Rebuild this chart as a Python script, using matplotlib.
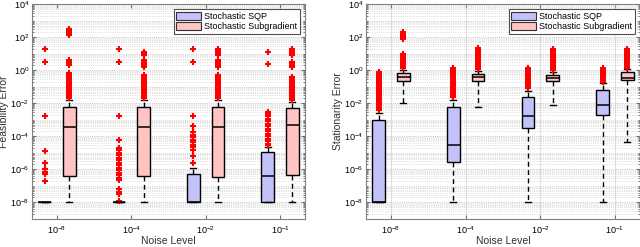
import numpy as np
import matplotlib
matplotlib.use("Agg")
import matplotlib.pyplot as plt
from matplotlib.patches import Patch
from matplotlib.ticker import FixedLocator, LogLocator, NullFormatter

plt.rcParams["font.family"] = ["Liberation Sans", "DejaVu Sans"]
plt.rcParams["mathtext.default"] = "regular"

# --- Data (all values as log10 exponents) ---
noise_labels = ["$10^{-8}$", "$10^{-4}$", "$10^{-2}$", "$10^{-1}$"]
methods      = ["Stochastic SQP", "Stochastic Subgradient"]
fill_colors  = ["#c2c2f8", "#ffc4c4"]

# box stats per noise level: (whislo, q1, med, q3, whishi)
feas_sqp = [(-8, -8, -8, -8, -8),
            (-8, -8, -8, -8, -8),
            (-8, -8, -8, -6.25, -5.9),
            (-8, -8, -6.4, -4.97, -4.67)]
feas_sub = [(-8, -6.42, -3.45, -2.24, -1.8),
            (-8, -6.42, -3.45, -2.24, -1.8),
            (-8, -6.45, -3.45, -2.24, -1.8),
            (-8, -6.36, -3.33, -2.3, -1.94)]
feas_sqp_fliers = [
    [1.27, 0.5, -2.8, -4.9, -5.6, -6.0, -6.15, -6.3, -6.7],
    [1.27, 0.5, -2.8, -4.2, -4.7, -4.85, -5.0, -5.15, -5.3, -5.45, -5.6, -5.75,
     -5.9, -6.05, -6.2, -6.35, -6.5, -6.65, -7.2, -7.35, -7.5, -7.9],
    [1.27, 0.5, -2.8, -3.4, -3.75, -3.9, -4.05, -4.2, -4.35, -4.5, -4.65, -4.8,
     -5.2, -5.6],
    [1.1, 0.36, -2.55, -2.65, -2.8, -2.95, -3.1, -3.25, -3.4, -3.55, -3.7, -3.85,
     -4.0, -4.15, -4.3, -4.45, -4.55],
]
feas_sub_fliers = [
    [-1.7, -1.6, -1.5, -1.4, -1.3, -1.2, -1.1, -1.0, -0.9, -0.8, -0.7, -0.6, -0.5,
     -0.4, -0.3, -0.2, 0.3, 0.4, 0.5, 0.6, 2.1, 2.2, 2.3, 2.4, 2.5],
    [-1.7, -1.6, -1.5, -1.4, -1.3, -1.2, -1.1, -1.0, -0.9, -0.8, -0.7, -0.6, -0.5,
     -0.4, -0.3, 0.2, 0.3, 0.4, 0.5, 0.6, 0.9, 1.0, 1.1],
    [-1.7, -1.6, -1.5, -1.4, -1.3, -1.2, -1.1, -1.0, -0.9, -0.8, -0.7, -0.6, -0.5,
     -0.4, -0.3, 0.2, 0.3, 0.4, 0.5, 0.6, 0.9, 1.0, 1.1, 1.2, 1.27],
    [-1.8, -1.7, -1.6, -1.5, -1.4, -1.3, -1.2, -1.1, -1.0, -0.9, -0.8, -0.7, -0.6,
     -0.5, -0.4, 0.2, 0.3, 0.4, 0.5, 0.9, 1.0, 1.1, 1.2, 1.3],
]

stat_sqp = [(-8, -8, -8, -3.03, -2.6),
            (-8, -5.55, -4.55, -2.2, -1.8),
            (-8, -3.5, -2.8, -1.6, -1.27),
            (-8, -2.7, -2.1, -1.2, -0.8)]
stat_sub = [(-2.0, -0.65, -0.42, -0.2, 0.0),
            (-2.25, -0.65, -0.42, -0.25, -0.05),
            (-2.1, -0.65, -0.45, -0.3, -0.1),
            (-4.35, -0.6, -0.5, -0.1, 0.05)]
stat_sqp_fliers = [
    [-2.4, -2.3, -2.2, -2.1, -2.0, -1.9, -1.8, -1.7, -1.6, -1.5, -1.4, -1.3, -1.2,
     -1.1, -1.0, -0.9, -0.8, -0.7, -0.6, -0.5, -0.4, -0.3, -0.2, -0.1],
    [-1.6, -1.5, -1.4, -1.3, -1.2, -1.1, -1.0, -0.9, -0.8, -0.7, -0.6, -0.5, -0.4,
     -0.3, -0.2, -0.1, 0.0, 0.1],
    [-1.1, -1.0, -0.9, -0.8, -0.7, -0.6, -0.5, -0.4, -0.3, -0.2, -0.1, 0.0, 0.1],
    [-0.7, -0.6, -0.5, -0.4, -0.3, -0.2, -0.1, 0.0, 0.1],
]
stat_sub_fliers = [
    [0.1, 0.2, 0.3, 0.4, 0.5, 0.6, 0.7, 0.8, 0.9, 1.0, 1.9, 2.0, 2.1, 2.2, 2.3],
    [0.05, 0.15, 0.25, 0.35, 0.45, 0.55, 0.65, 0.75, 0.85, 0.95, 1.05, 1.15, 1.25,
     1.35],
    [0.0, 0.1, 0.2, 0.3, 0.4, 0.5, 0.6, 0.7, 0.8, 0.9, 1.0, 1.1, 1.2, 1.3],
    [0.1, 0.2, 0.3, 0.4, 0.5, 0.6, 0.7, 0.8, 0.9, 1.0, 1.1, 1.2, 1.3],
]


def make_stats(boxes, fliers):
    out = []
    for (lo, q1, med, q3, hi), fl in zip(boxes, fliers):
        out.append(dict(whislo=10.0 ** lo, q1=10.0 ** q1, med=10.0 ** med,
                        q3=10.0 ** q3, whishi=10.0 ** hi,
                        fliers=10.0 ** np.array(fl)))
    return out


def draw_panel(ax, sqp, sqp_fl, sub, sub_fl, ylabel, xgrid):
    groups = np.arange(1, len(noise_labels) + 1)
    for k, (boxes, fl) in enumerate([(sqp, sqp_fl), (sub, sub_fl)]):
        pos = groups + (-0.165 if k == 0 else 0.165)
        ax.bxp(make_stats(boxes, fl), positions=pos, widths=0.17,
               capwidths=0.08, patch_artist=True, manage_ticks=False,
               boxprops=dict(facecolor=fill_colors[k], edgecolor="k", lw=1.0),
               medianprops=dict(color="k", lw=1.1),
               whiskerprops=dict(color="k", lw=1.0, linestyle=(0, (3.5, 2.5))),
               capprops=dict(color="k", lw=1.0),
               flierprops=dict(marker="+", markeredgecolor="red",
                               markersize=4, markeredgewidth=1.5))
    ax.set_yscale("log")
    ax.set_ylim(1e-9, 1e4)
    ax.set_xlim(0.665, 4.335)
    ax.yaxis.set_major_locator(FixedLocator(10.0 ** np.arange(-8, 5, 2)))
    ax.yaxis.set_minor_locator(LogLocator(base=10, subs=np.arange(1, 10),
                                          numticks=60))
    ax.yaxis.set_minor_formatter(NullFormatter())
    ax.set_xticks(groups)
    ax.set_xticklabels(noise_labels)
    ax.tick_params(axis="both", which="both", direction="in", labelsize=6.5,
                   color="#707070", top=True, right=True, length=3, pad=2)
    ax.tick_params(axis="x", pad=4)
    ax.tick_params(axis="y", which="minor", length=1.5)
    ax.grid(True, axis="y", which="major", linestyle=":", color="#b0b0b0", lw=0.6)
    ax.grid(True, axis="y", which="minor", linestyle=":", color="#c8c8c8", lw=0.5)
    if xgrid:
        ax.grid(True, axis="x", which="major", linestyle="-", color="#e0e0e0",
                lw=0.8)
    ax.set_axisbelow(True)
    for sp in ax.spines.values():
        sp.set_color("#808080")
        sp.set_linewidth(0.8)
    ax.set_xlabel("Noise Level", fontsize=7.5, color="#303030", labelpad=0)
    ax.set_ylabel(ylabel, fontsize=7.5, color="#303030", labelpad=1)
    handles = [Patch(facecolor=fill_colors[i], edgecolor="#303030", lw=0.8)
               for i in range(2)]
    leg = ax.legend(handles, methods, loc="upper right", fontsize=6.5,
                    fancybox=False, framealpha=1, edgecolor="#505050",
                    handlelength=2.8, handleheight=1.0, borderpad=0.25,
                    labelspacing=0.15, handletextpad=0.3,
                    borderaxespad=0.6)
    leg.get_frame().set_linewidth(0.8)


fig = plt.figure(figsize=(6.4, 2.47), dpi=100)
ax1 = fig.add_axes([32 / 640, 28 / 247, 273 / 640, 215 / 247])
ax2 = fig.add_axes([366 / 640, 28 / 247, 274 / 640, 215 / 247])

draw_panel(ax1, feas_sqp, feas_sqp_fliers, feas_sub, feas_sub_fliers,
           "Feasibility Error", xgrid=False)
draw_panel(ax2, stat_sqp, stat_sqp_fliers, stat_sub, stat_sub_fliers,
           "Stationarity Error", xgrid=True)

fig.savefig("out.png", dpi=100)
